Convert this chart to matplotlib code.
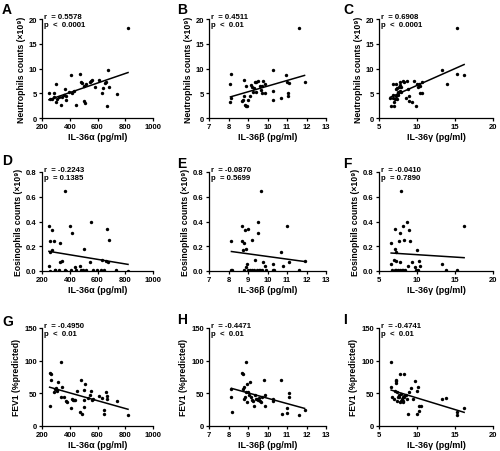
import numpy as np
import matplotlib
matplotlib.use("Agg")
from matplotlib import pyplot as plt

plt.rcParams['font.family'] = ['Liberation Sans', 'DejaVu Sans']
plt.rcParams['font.weight'] = 'bold'

# IL-36a vs neutrophils (A)
a_x = [250, 255, 270, 285, 290, 300, 300, 310, 320, 335, 345, 360, 365, 370, 375, 395, 410, 415, 430, 445,
       475, 480, 485, 500, 505, 510, 520, 545, 555, 560, 580, 610, 630, 640, 655, 660, 670, 675, 680, 740, 820]
a_y = [5.0, 3.9, 3.8, 4.2, 5.0, 6.9, 3.3, 3.9, 4.2, 2.6, 4.2, 4.6, 5.9, 3.6, 4.5, 5.2, 8.7, 5.1, 5.4, 2.7,
       8.8, 7.2, 7.0, 3.4, 6.5, 3.0, 6.9, 7.2, 7.5, 7.6, 6.3, 7.6, 5.0, 6.1, 7.1, 7.3, 2.5, 9.7, 6.2, 4.8, 18.2]

# IL-36b vs neutrophils (B)
b_x = [8.15, 8.1, 8.1, 8.15, 8.73, 8.77, 8.77, 8.83, 8.9, 8.92, 8.97, 8.7, 9.0, 9.1, 9.15, 9.2, 9.25, 9.3,
       9.35, 9.4, 9.5, 9.6, 9.65, 9.7, 9.75, 9.85, 9.85, 9.7, 9.4, 10.3, 10.3, 10.3, 10.7, 10.95, 11.0,
       11.05, 11.05, 11.1, 11.6, 11.9]
b_y = [8.9, 6.9, 3.3, 4.1, 3.7, 7.6, 4.4, 2.6, 6.4, 2.5, 2.5, 3.5, 3.6, 4.5, 6.7, 6.3, 5.2, 6.0,
       7.2, 7.3, 7.5, 6.4, 5.7, 5.1, 7.4, 6.9, 5.0, 6.4, 5.2, 9.7, 5.5, 3.6, 4.0, 8.6, 7.2,
       5.0, 4.5, 7.1, 18.1, 7.2]

# IL-36g vs neutrophils (C)
c_x = [6.6, 6.5, 6.9, 6.8, 6.9, 7.0, 7.0, 7.1, 7.2, 7.2, 7.3, 7.35, 7.4, 7.45, 7.5, 7.55, 7.6, 7.7,
       7.75, 7.8, 7.85, 7.9, 8.1, 8.35, 8.65, 8.6, 8.9, 8.8, 9.0, 9.35, 9.55, 9.9, 10.0, 10.1, 10.25,
       10.35, 10.35, 10.7, 10.6, 13.3, 13.9, 15.3, 15.3, 16.2]
c_y = [2.5, 4.0, 4.0, 4.6, 6.9, 3.2, 2.4, 3.8, 4.5, 5.9, 6.9, 3.8, 6.0, 5.2, 5.0, 4.6, 6.2, 5.5,
       6.7, 7.2, 5.2, 6.2, 7.5, 7.2, 7.5, 4.0, 4.5, 5.9, 3.5, 3.3, 7.5, 2.5, 6.9, 6.2, 6.9,
       6.4, 5.0, 5.0, 7.2, 9.7, 6.9, 18.2, 8.9, 8.6]

# IL-36a vs eosinophils (D)
d_x = [250, 255, 255, 250, 272, 274, 286, 291, 296, 327, 332, 346, 363, 363, 322, 399, 416, 411, 435, 447,
       471, 483, 495, 502, 519, 548, 555, 567, 596, 627, 634, 646, 658, 668, 675, 682, 735, 820, 375, 258]
d_y = [0.36, 0.24, 0.15, 0.04, 0.33, 0.17, 0.24, 0.01, 0.005, 0.23, 0.07, 0.08, 0.645, 0.005, 0.005,
       0.36, 0.31, 0.005, 0.03, 0.005, 0.04, 0.01, 0.005, 0.18, 0.01, 0.07, 0.40, 0.005, 0.005, 0.005,
       0.09, 0.005, 0.08, 0.34, 0.07, 0.25, 0.005, 0.0, 0.0, 0.0]

# IL-36b vs eosinophils (E)
e_x = [8.15, 8.15, 8.2, 8.7, 8.7, 8.75, 8.8, 8.8, 8.85, 8.9, 8.9, 8.95, 9.0, 9.0, 9.1, 9.2, 9.2, 9.3,
       9.35, 9.5, 9.5, 9.55, 9.65, 9.7, 9.75, 9.85, 9.9, 10.3, 10.3, 10.35, 10.7, 10.8, 11.0, 11.1, 11.6,
       11.9, 9.6, 9.45]
e_y = [0.24, 0.005, 0.01, 0.36, 0.24, 0.17, 0.23, 0.005, 0.33, 0.18, 0.03, 0.06, 0.34, 0.005, 0.005,
       0.25, 0.01, 0.005, 0.09, 0.40, 0.31, 0.005, 0.645, 0.01, 0.07, 0.04, 0.005, 0.06, 0.01, 0.005,
       0.15, 0.04, 0.36, 0.07, 0.005, 0.08, 0.005, 0.01]

# IL-36g vs eosinophils (F)
f_x = [6.6, 6.6, 6.7, 7.0, 7.1, 7.15, 7.2, 7.3, 7.3, 7.5, 7.6, 7.7, 7.8, 7.8, 7.9, 8.1, 8.2, 8.3, 8.4,
       8.7, 8.8, 8.9, 9.1, 9.4, 9.8, 10.0, 10.1, 10.3, 10.4, 13.3, 13.8, 15.3, 16.2, 7.1, 8.0, 9.9]
f_y = [0.23, 0.06, 0.005, 0.09, 0.34, 0.18, 0.15, 0.01, 0.08, 0.005, 0.24, 0.07, 0.31, 0.005, 0.645,
       0.005, 0.36, 0.25, 0.005, 0.40, 0.04, 0.33, 0.24, 0.07, 0.03, 0.17, 0.005, 0.08, 0.04, 0.06, 0.01,
       0.005, 0.36, 0.01, 0.005, 0.005]

# IL-36a vs FEV1 (G)
g_x = [255, 260, 262, 265, 290, 295, 300, 305, 310, 315, 335, 340, 345, 360, 370, 380, 410, 415, 425, 430,
       440, 450, 475, 480, 485, 500, 500, 505, 510, 530, 545, 555, 560, 570, 610, 630, 645, 650, 660, 670,
       670, 740, 820]
g_y = [30, 81, 71, 80, 52, 57, 58, 55, 54, 68, 98, 44, 60, 45, 38, 36, 27, 42, 40, 40,
       40, 54, 22, 70, 18, 29, 40, 55, 65, 43, 48, 53, 40, 42, 46, 43, 19, 24, 52, 41,
       46, 38, 17]

# IL-36b vs FEV1 (H)
h_x = [8.15, 8.15, 8.2, 8.7, 8.75, 8.75, 8.8, 8.8, 8.85, 8.9, 8.9, 8.95, 8.95, 9.0, 9.05, 9.1, 9.15, 9.2,
       9.25, 9.3, 9.35, 9.4, 9.5, 9.55, 9.6, 9.65, 9.7, 9.8, 9.85, 9.85, 10.3, 10.3, 10.7, 10.75, 11.0,
       11.0, 11.1, 11.1, 11.6, 11.9, 9.45]
h_y = [57, 44, 22, 81, 80, 57, 60, 42, 45, 98, 52, 65, 37, 52, 47, 68, 44, 40,
       38, 30, 47, 42, 40, 43, 38, 36, 45, 70, 47, 30, 38, 41, 70, 18, 27,
       20, 50, 45, 17, 24, 41]

# IL-36g vs FEV1 (I)
i_x = [6.6, 6.6, 6.65, 7.0, 7.1, 7.2, 7.2, 7.3, 7.35, 7.4, 7.5, 7.6, 7.65, 7.7, 7.8, 7.9, 7.9, 8.0, 8.05,
       8.1, 8.2, 8.3, 8.35, 8.5, 8.7, 8.8, 9.0, 9.2, 9.5, 9.8, 9.95, 10.05, 10.15, 10.2, 10.3, 10.5, 13.3,
       13.8, 15.3, 15.3, 16.2, 8.15, 8.25]
i_y = [98, 59, 44, 41, 53, 66, 69, 70, 38, 52, 44, 47, 44, 80, 37, 38, 49, 42, 40,
       38, 45, 44, 80, 48, 41, 18, 52, 58, 42, 69, 53, 19, 59, 23, 30, 30, 41,
       43, 17, 22, 27, 37, 46]

letters = ['A', 'B', 'C', 'D', 'E', 'F', 'G', 'H', 'I']
xs = [a_x, b_x, c_x, d_x, e_x, f_x, g_x, h_x, i_x]
ys = [a_y, b_y, c_y, d_y, e_y, f_y, g_y, h_y, i_y]
stats = ['r  = 0.5578\np  <  0.0001', 'r  = 0.4511\np  <  0.01', 'r  = 0.6908\np  <  0.0001',
         'r  = -0.2243\np  = 0.1385', 'r  = -0.0870\np  = 0.5699', 'r  = -0.0410\np  = 0.7890',
         'r  = -0.4950\np  <  0.01', 'r  = -0.4471\np  <  0.01', 'r  = -0.4741\np  <  0.01']
x_labels = ['IL-36α (pg/ml)', 'IL-36β (pg/ml)', 'IL-36γ (pg/ml)']
y_labels = ['Neutrophils counts (×10⁹)', 'Eosinophils counts (×10⁹)', 'FEV1 (%predicted)']
x_ticks = [[200, 400, 600, 800, 1000], [7, 8, 9, 10, 11, 12, 13], [5, 10, 15, 20]]
y_ticks = [[0, 5, 10, 15, 20], [0.0, 0.2, 0.4, 0.6, 0.8], [0, 50, 100, 150]]
y_fmt = ['{:.0f}', '{:.1f}', '{:.0f}']

W, H = 500, 452
fig = plt.figure(figsize=(W / 100, H / 100), dpi=100)
col_lr = [(42, 153), (209, 326), (379, 493)]
row_tb = [(20, 119), (173, 272), (329, 427)]
letter_pos = [[(2, 14), (177, 14), (343, 14)],
              [(2, 165), (177, 168), (343, 168)],
              [(2, 326), (177, 324), (343, 324)]]

for k in range(9):
    r, c = divmod(k, 3)
    l, rr = col_lr[c]
    t, b = row_tb[r]
    ax = fig.add_axes([l / W, 1 - b / H, (rr - l) / W, (b - t) / H])
    x = np.array(xs[k], dtype=float)
    y = np.array(ys[k], dtype=float)
    ax.scatter(x, y, s=6, color='black', zorder=3, linewidths=0)
    slope, inter = np.polyfit(x, y, 1)
    lx = np.array([x.min(), x.max()])
    ax.plot(lx, slope * lx + inter, color='black', lw=1.1)
    ax.set_xlim(x_ticks[c][0], x_ticks[c][-1])
    ax.set_ylim(y_ticks[r][0], y_ticks[r][-1])
    ax.set_xticks(x_ticks[c])
    ax.set_yticks(y_ticks[r])
    ax.set_yticklabels([y_fmt[r].format(v) for v in y_ticks[r]])
    ax.spines['top'].set_visible(False)
    ax.spines['right'].set_visible(False)
    for s in ['left', 'bottom']:
        ax.spines[s].set_linewidth(0.9)
    ax.tick_params(length=2.5, width=0.9, labelsize=5.5, pad=1.2)
    ax.set_xlabel(x_labels[c], fontsize=6.5, fontweight='bold', labelpad=1.5)
    ax.set_ylabel(y_labels[r], fontsize=6.2, fontweight='bold', labelpad=2)
    ax.text(0.02, 1.06, stats[k], transform=ax.transAxes, fontsize=5.6, fontweight='bold',
            va='top', ha='left', linespacing=1.15)
    px, py = letter_pos[r][c]
    fig.text(px / W, 1 - py / H, letters[k], fontsize=10, fontweight='bold', va='baseline')

fig.savefig('out.png', dpi=100)
